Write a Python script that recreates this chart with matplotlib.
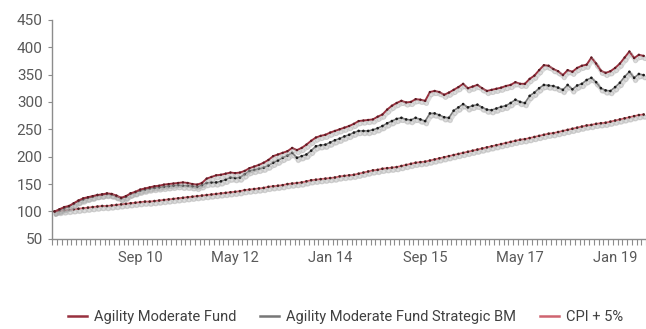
import matplotlib
matplotlib.use("Agg")
import matplotlib.pyplot as plt
import matplotlib.patheffects as pe
from matplotlib.ticker import FixedLocator

# Monthly index levels, Mar 2009 - Jul 2019 (base 100)
fund = [100, 104, 108, 110, 115, 120, 124, 126, 128, 130,
        131, 133, 132, 129, 125, 128, 133, 136, 140, 142,
        144, 146, 147, 149, 150, 151, 152, 153, 152, 150,
        149, 152, 160, 163, 166, 167, 169, 171, 170, 171,
        174, 179, 182, 185, 189, 194, 201, 204, 207, 210,
        216, 212, 216, 222, 229, 235, 238, 240, 244, 247,
        250, 253, 256, 260, 265, 266, 267, 268, 273, 277,
        286, 293, 298, 302, 299, 300, 305, 304, 302, 318,
        320, 318, 313, 317, 322, 327, 333, 325, 328, 331,
        325, 320, 322, 324, 326, 329, 331, 336, 333, 333,
        342, 348, 358, 367, 366, 360, 356, 349, 358, 355,
        362, 366, 368, 381, 370, 357, 353, 356, 362, 370,
        381, 392, 380, 386, 384]

benchmark = [100, 103, 106, 109, 114, 119, 122, 125, 127, 130,
             131, 132, 131, 128, 124, 127, 133, 135, 138, 140,
             142, 143, 144, 145, 146, 147, 148, 147, 147, 146,
             145, 148, 152, 153, 153, 155, 158, 162, 161, 162,
             168, 174, 176, 178, 180, 184, 189, 193, 198, 202,
             207, 198, 201, 204, 211, 219, 221, 222, 226, 230,
             233, 237, 240, 244, 247, 247, 247, 249, 252, 256,
             261, 265, 269, 271, 268, 267, 271, 268, 265, 279,
             279, 276, 272, 271, 284, 290, 296, 290, 293, 295,
             290, 286, 285, 288, 291, 293, 298, 304, 300, 298,
             311, 317, 325, 331, 330, 329, 326, 322, 331, 323,
             330, 333, 340, 344, 336, 325, 321, 320, 327, 335,
             346, 355, 344, 351, 349]

cpi_plus5 = [100, 101, 102, 103, 104, 105, 106, 107, 108, 109,
             110, 110, 111, 112, 113, 114, 115, 116, 117, 118,
             118, 119, 120, 121, 122, 123, 124, 125, 126, 127,
             128, 129, 130, 131, 132, 133, 134, 135, 136, 137,
             139, 140, 141, 142, 143, 145, 146, 147, 148, 150,
             151, 152, 153, 155, 157, 158, 159, 160, 161, 162,
             164, 165, 166, 167, 169, 171, 173, 175, 176, 178,
             179, 180, 181, 183, 185, 187, 189, 190, 191, 193,
             195, 197, 199, 201, 203, 205, 207, 209, 211, 213,
             215, 217, 219, 221, 223, 225, 227, 229, 231, 232,
             234, 236, 238, 240, 242, 243, 245, 247, 249, 251,
             253, 255, 257, 258, 260, 261, 262, 264, 266, 268,
             270, 272, 274, 276, 277]

series_names = ["Agility Moderate Fund", "Agility Moderate Fund Strategic BM", "CPI + 5%"]

# Category labels shown every 20 months
label_positions = [18, 38, 58, 78, 98, 118]
label_texts = ["Sep 10", "May 12", "Jan 14", "Sep 15", "May 17", "Jan 19"]

y_ticks = [50, 100, 150, 200, 250, 300, 350, 400, 450]

plt.rcParams["font.family"] = ["Roboto", "DejaVu Sans"]

fig = plt.figure(figsize=(6.46, 3.29), dpi=100)
ax = fig.add_axes([0.081, 0.274, 0.919, 0.666])

x = list(range(len(fund)))

shadow = [pe.SimpleLineShadow(offset=(1.0, -2.0), shadow_color="#a8a8a8", alpha=0.4, linewidth=2.8),
          pe.Normal()]

ax.plot(x, cpi_plus5, color="#cf6470", lw=1.3, marker="o", ms=0.9,
        mfc="#4a2020", mec="#4a2020", path_effects=shadow, label=series_names[2], zorder=3)
ax.plot(x, benchmark, color="#777777", lw=1.2, marker="o", ms=0.9,
        mfc="#1a1a1a", mec="#1a1a1a", path_effects=shadow, label=series_names[1], zorder=4)
ax.plot(x, fund, color="#98303e", lw=1.4, marker="o", ms=0.7,
        mfc="#5a1a22", mec="#5a1a22", path_effects=shadow, label=series_names[0], zorder=5)

ax.set_xlim(-0.5, len(fund) - 0.5)
ax.set_ylim(50, 450)

for side in ("top", "right"):
    ax.spines[side].set_visible(False)
for side in ("left", "bottom"):
    ax.spines[side].set_color("#8c8c8c")
    ax.spines[side].set_linewidth(1.0)

ax.set_yticks(y_ticks)
ax.tick_params(axis="y", direction="out", length=3, width=0.8, color="#8c8c8c",
               labelsize=11, labelcolor="#595959", pad=4)

ax.xaxis.set_major_locator(FixedLocator(label_positions))
ax.set_xticklabels(label_texts)
ax.xaxis.set_minor_locator(FixedLocator([i - 0.5 for i in range(len(fund) + 1)]))
ax.tick_params(axis="x", which="major", length=0, labelsize=10.5, labelcolor="#595959", pad=9)
ax.tick_params(axis="x", which="minor", direction="out", length=4, width=0.8, color="#8c8c8c")

handles, labels = ax.get_legend_handles_labels()
order = [2, 1, 0]
leg = fig.legend([handles[i] for i in order], [labels[i] for i in order],
                 loc="center", bbox_to_anchor=(0.535, 0.035), ncol=3, frameon=False,
                 fontsize=10.5, handlelength=1.3, handletextpad=0.5, columnspacing=1.6,
                 labelcolor="#404040")
for line in leg.get_lines():
    line.set_marker("")
    line.set_linewidth(1.8)
    line.set_path_effects([])

fig.savefig("out.png", dpi=100)
